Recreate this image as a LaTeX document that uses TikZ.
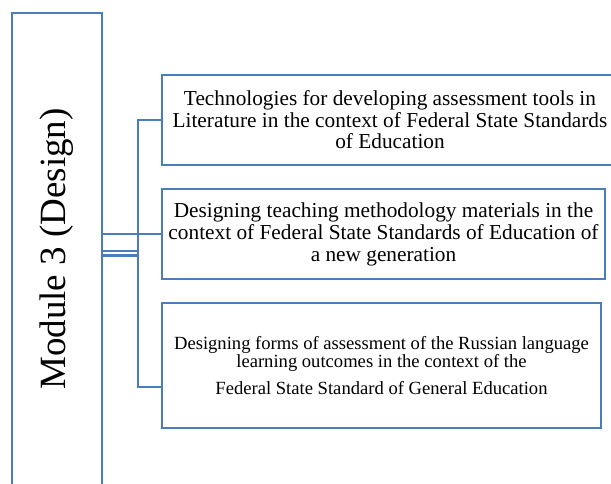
\documentclass[tikz,border=0pt]{standalone}
\usepackage{fontspec}
\setmainfont{Liberation Serif}
\usetikzlibrary{calc}
\definecolor{boxblue}{RGB}{74,125,187}
\begin{document}
\begin{tikzpicture}[x=1pt,y=-1pt,line width=2.5pt,
  box/.style={draw=boxblue,align=center,inner sep=0pt},
  link/.style={draw=boxblue}]
  \useasboundingbox (0,0) rectangle (611,484);
  \clip (0,0) rectangle (611,484);
  \node[box,minimum width=90pt,minimum height=540pt] (mod) at (57,283) {};
  \node[rotate=90,font=\fontsize{37}{40}\selectfont] (modtext) at (57,249) {Module 3 (Design)};
  \node[box,minimum width=456pt,minimum height=90pt,font=\fontsize{21.3}{21.5}\selectfont] (t1) at (390,120)
    {Technologies for developing assessment tools in\\ Literature in the context of Federal State Standards\\ of Education};
  \node[box,minimum width=443pt,minimum height=90pt,font=\fontsize{21.3}{22}\selectfont] (t2) at (383.5,234)
    {Designing teaching methodology materials in the\\ context of Federal State Standards of Education of\\ a new generation};
  \node[box,minimum width=439pt,minimum height=125pt,font=\fontsize{18.6}{18}\selectfont] (t3) at (381.5,365.5)
    {Designing forms of assessment of the Russian language\\ learning outcomes in the context of the\\[9pt] Federal State Standard of General Education};
  \coordinate (bus) at (138,387);
  \coordinate (d1) at (138,251);
  \coordinate (d2) at (138,255.5);
  \draw[link] (t1.west) -| (bus) -- ($(t3.west)+(0,21.5)$);
  \draw[link] (mod.east |- t2.west) -- (t2.west);
  \draw[link] (mod.east |- d1) -- (d1);
  \draw[link] (mod.east |- d2) -- (d2);
\end{tikzpicture}
\end{document}
